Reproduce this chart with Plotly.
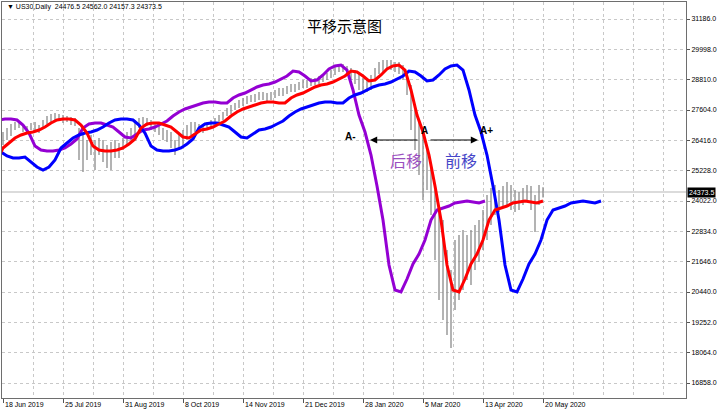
import plotly.graph_objects as go

# ---------------- data ----------------
title_text = "平移示意图"
header_text = "▼ US30,Daily  24476.5 24562.0 24157.3 24373.5"
last_price = 24373.5

date_labels = ["18 Jun 2019", "25 Jul 2019", "31 Aug 2019", "8 Oct 2019", "14 Nov 2019",
               "21 Dec 2019", "28 Jan 2020", "5 Mar 2020", "13 Apr 2020", "20 May 2020"]
label_bars = [0, 30, 60, 90, 120, 150, 180, 210, 240, 270]

ytick_vals = [31186, 29998, 28810, 27604, 26416, 25228, 24022, 22834, 21646, 20440, 19252, 18064, 16858]

# daily bars (every 2nd bar), high / low
bar_high = [26738, 26896, 27053, 27132, 27171, 27053, 26975, 27093, 27132, 27014, 27211, 27368, 27447, 27486,
            27447, 27408, 27368, 27329, 27290,
            26896, 26620, 26424, 26620, 26424, 26502, 26424, 26227, 26345, 26424, 26306, 26502, 26738, 26896,
            27211, 27290, 27329, 27290, 27211, 27132, 27014, 26896, 26817, 26738, 26424,
            26620, 26817, 27014, 27132, 27132, 27053, 27014, 27132, 27211, 27290, 27408, 27526, 27683, 27801,
            27880, 27998, 28077, 28155, 28195, 28234, 28313, 28313, 28274, 28313,
            28392, 28470, 28470, 28549, 28628, 28628, 28706, 28785, 28785, 28864, 28864, 28943, 28982, 29061,
            29179, 29297, 29376, 29415, 29336, 29258, 29179, 29021, 28864, 28785, 28982, 29258, 29494, 29572,
            29572, 29572, 29494, 29494, 29376,
            29100, 28588, 27604, 27211, 26817, 26030, 25440, 24456, 23668, 23275, 22094, 21307, 22488, 22684,
            22881, 22684, 22881, 23078, 23275, 23668, 24259, 24534, 24652, 24456, 24613, 24770, 24652, 24456,
            24377, 24534, 24652, 24613, 24259, 24652, 24562]
bar_low = [26227, 26424, 26581, 26817, 26896, 26738, 26660, 26817, 26817, 26699, 26896, 27053, 27132, 27211,
           27171, 27093, 27132, 27014, 26975,
           25636, 25164, 25636, 25833, 25243, 25833, 25558, 25322, 25243, 25715, 25715, 26030, 26227, 26424,
           26620, 26896, 27014, 26975, 26817, 26738, 26620, 26424, 26345, 26109, 25833,
           26030, 26227, 26424, 26620, 26738, 26738, 26699, 26817, 26896, 26975, 27053, 27211, 27368, 27447,
           27604, 27683, 27762, 27841, 27919, 27919, 27998, 27998, 27919, 27998,
           28077, 28155, 28155, 28234, 28313, 28313, 28392, 28470, 28470, 28549, 28588, 28628, 28706, 28785,
           28864, 28982, 29100, 29100, 29021, 28785, 28628, 28392, 28313, 28313, 28392, 28785, 29021, 29100,
           29179, 29179, 29100, 29021, 28785,
           28195, 26817, 26030, 25046, 24062, 24456, 23472, 21700, 20126, 19339, 18748, 18237, 19732, 20126,
           20520, 20913, 20716, 21307, 21622, 22094, 22488, 23078, 23472, 23590, 23747, 23865, 23668, 23590,
           23668, 23865, 23983, 23668, 22802, 23865, 24157]
bar_step = 2

# moving average (every 3rd bar, starting 30 bars before first visible bar)
ma_values = [25951, 25794, 25715, 25715, 25754, 25558, 25361, 25243, 25361, 25636,
             26109, 26305, 26502, 26620, 26699, 26738, 26817, 26935, 27093, 27211,
             27250, 27250, 27211, 27014, 26699, 26187, 26030, 25990, 25990, 26030,
             26109, 26266, 26463, 26896, 27053, 27093, 27093, 27014, 26935, 26738,
             26542, 26502, 26660, 26817, 26856, 26935, 27053, 27171, 27368, 27526,
             27644, 27722, 27801, 27880, 27919, 27919, 27880, 27880, 28077, 28195,
             28273, 28391, 28510, 28588, 28628, 28706, 28824, 28942, 29139, 29100,
             28942, 28746, 28785, 28982, 29218, 29336, 29375, 29179, 28391, 27407,
             26738, 25833, 24613, 23275, 21503, 20519, 20441, 20952, 21543, 21936,
             22487, 23275, 23668, 23747, 23826, 23944, 23983, 24022, 23983, 23944,
             24022]
ma_first_bar = -30
ma_step = 3
shift_bars = 29

# ---------------- figure ----------------
bx, by = [], []
for i, (h, l) in enumerate(zip(bar_high, bar_low)):
    b = i * bar_step
    bx += [b, b, None]
    by += [l, h, None]

ma_x = [ma_first_bar + ma_step * i for i in range(len(ma_values))]

fig = go.Figure()
fig.add_trace(go.Scatter(x=bx, y=by, mode="lines", line=dict(color="#8a8a8a", width=1.3),
                         hoverinfo="skip", showlegend=False))
fig.add_trace(go.Scatter(x=[b - shift_bars for b in ma_x], y=ma_values, mode="lines",
                         line=dict(color="#9400D3", width=3), showlegend=False))
fig.add_trace(go.Scatter(x=[b + shift_bars for b in ma_x], y=ma_values, mode="lines",
                         line=dict(color="#0000FF", width=3), showlegend=False))
fig.add_trace(go.Scatter(x=ma_x, y=ma_values, mode="lines",
                         line=dict(color="#FF0000", width=3), showlegend=False))

grid_col = "#c8c8c8"
tick_font = dict(family="Liberation Sans, Arial, sans-serif", size=7, color="black")

fig.update_layout(
    width=720, height=413,
    margin=dict(l=2, r=34, t=2, b=15),
    paper_bgcolor="white", plot_bgcolor="white",
    font=tick_font,
    xaxis=dict(range=[-0.5, 341.5], tickvals=label_bars, showticklabels=False,
               ticks="outside", ticklen=4, tickcolor="#555",
               showgrid=True, gridcolor=grid_col, griddash="dot", gridwidth=1,
               minor=dict(tickvals=[b + 15 for b in label_bars] + [300, 315, 330],
                          showgrid=True, gridcolor=grid_col, griddash="dot", ticks=""),
               showline=True, mirror=True, linecolor="#6e6e6e", linewidth=1, zeroline=False),
    yaxis=dict(range=[16269, 31855], side="right", tickvals=ytick_vals,
               ticktext=[f"{v:.1f}" for v in ytick_vals], tickfont=tick_font,
               ticks="outside", ticklen=3, tickcolor="#555",
               showgrid=True, gridcolor=grid_col, griddash="dot", gridwidth=1,
               showline=True, mirror=True, linecolor="#6e6e6e", linewidth=1, zeroline=False),
)

# current price line + label
fig.add_shape(type="line", xref="paper", x0=0, x1=1, yref="y", y0=last_price, y1=last_price,
              line=dict(color="#cfcfcf", width=1.5), layer="below")
fig.add_annotation(xref="paper", x=1, y=last_price, xanchor="left", yanchor="middle",
                   text=f"{last_price:.1f}", showarrow=False, bgcolor="black",
                   font=dict(family="Liberation Sans, Arial", size=7, color="white"),
                   borderpad=1, xshift=1)

# date labels
for b, lbl in zip(label_bars, date_labels):
    fig.add_annotation(x=b, xref="x", y=0, yref="paper", yanchor="top", xanchor="left",
                       text=lbl, showarrow=False, font=tick_font, xshift=0, yshift=-1)

# title and header
fig.add_annotation(xref="paper", yref="paper", x=0.5, y=0.94, xanchor="center", yanchor="middle",
                   text=title_text, showarrow=False,
                   font=dict(family="Noto Sans CJK SC", size=15, color="black"))
fig.add_annotation(xref="paper", yref="paper", x=0, y=0.988, xanchor="left", yanchor="middle",
                   xshift=3, text=header_text, showarrow=False, font=tick_font)

# A-, A, A+ labels and arrows
lbl_font = dict(family="Liberation Sans, Arial", size=10, color="black")
fig.add_annotation(x=173.5, y=26542, text="<b>A-</b>", showarrow=False, font=lbl_font)
fig.add_annotation(x=210.5, y=26817, text="<b>A</b>", showarrow=False, font=lbl_font)
fig.add_annotation(x=241.5, y=26778, text="<b>A+</b>", showarrow=False, font=lbl_font)
fig.add_annotation(x=183.5, y=26424, ax=208, ay=26424, axref="x", ayref="y", xref="x", yref="y",
                   text="", showarrow=True, arrowhead=2, arrowsize=1.2, arrowwidth=1.2, arrowcolor="black")
fig.add_annotation(x=237.5, y=26424, ax=213, ay=26424, axref="x", ayref="y", xref="x", yref="y",
                   text="", showarrow=True, arrowhead=2, arrowsize=1.2, arrowwidth=1.2, arrowcolor="black")
fig.add_annotation(x=201.5, y=25636, text="后移", showarrow=False,
                   font=dict(family="Noto Sans CJK SC", size=16, color="#9b4fbf"))
fig.add_annotation(x=229, y=25636, text="前移", showarrow=False,
                   font=dict(family="Noto Sans CJK SC", size=16, color="#4646c8"))

fig.write_html("out.html", config={"displayModeBar": False},
               post_script="document.body.style.margin='0';document.body.style.overflow='hidden';")
